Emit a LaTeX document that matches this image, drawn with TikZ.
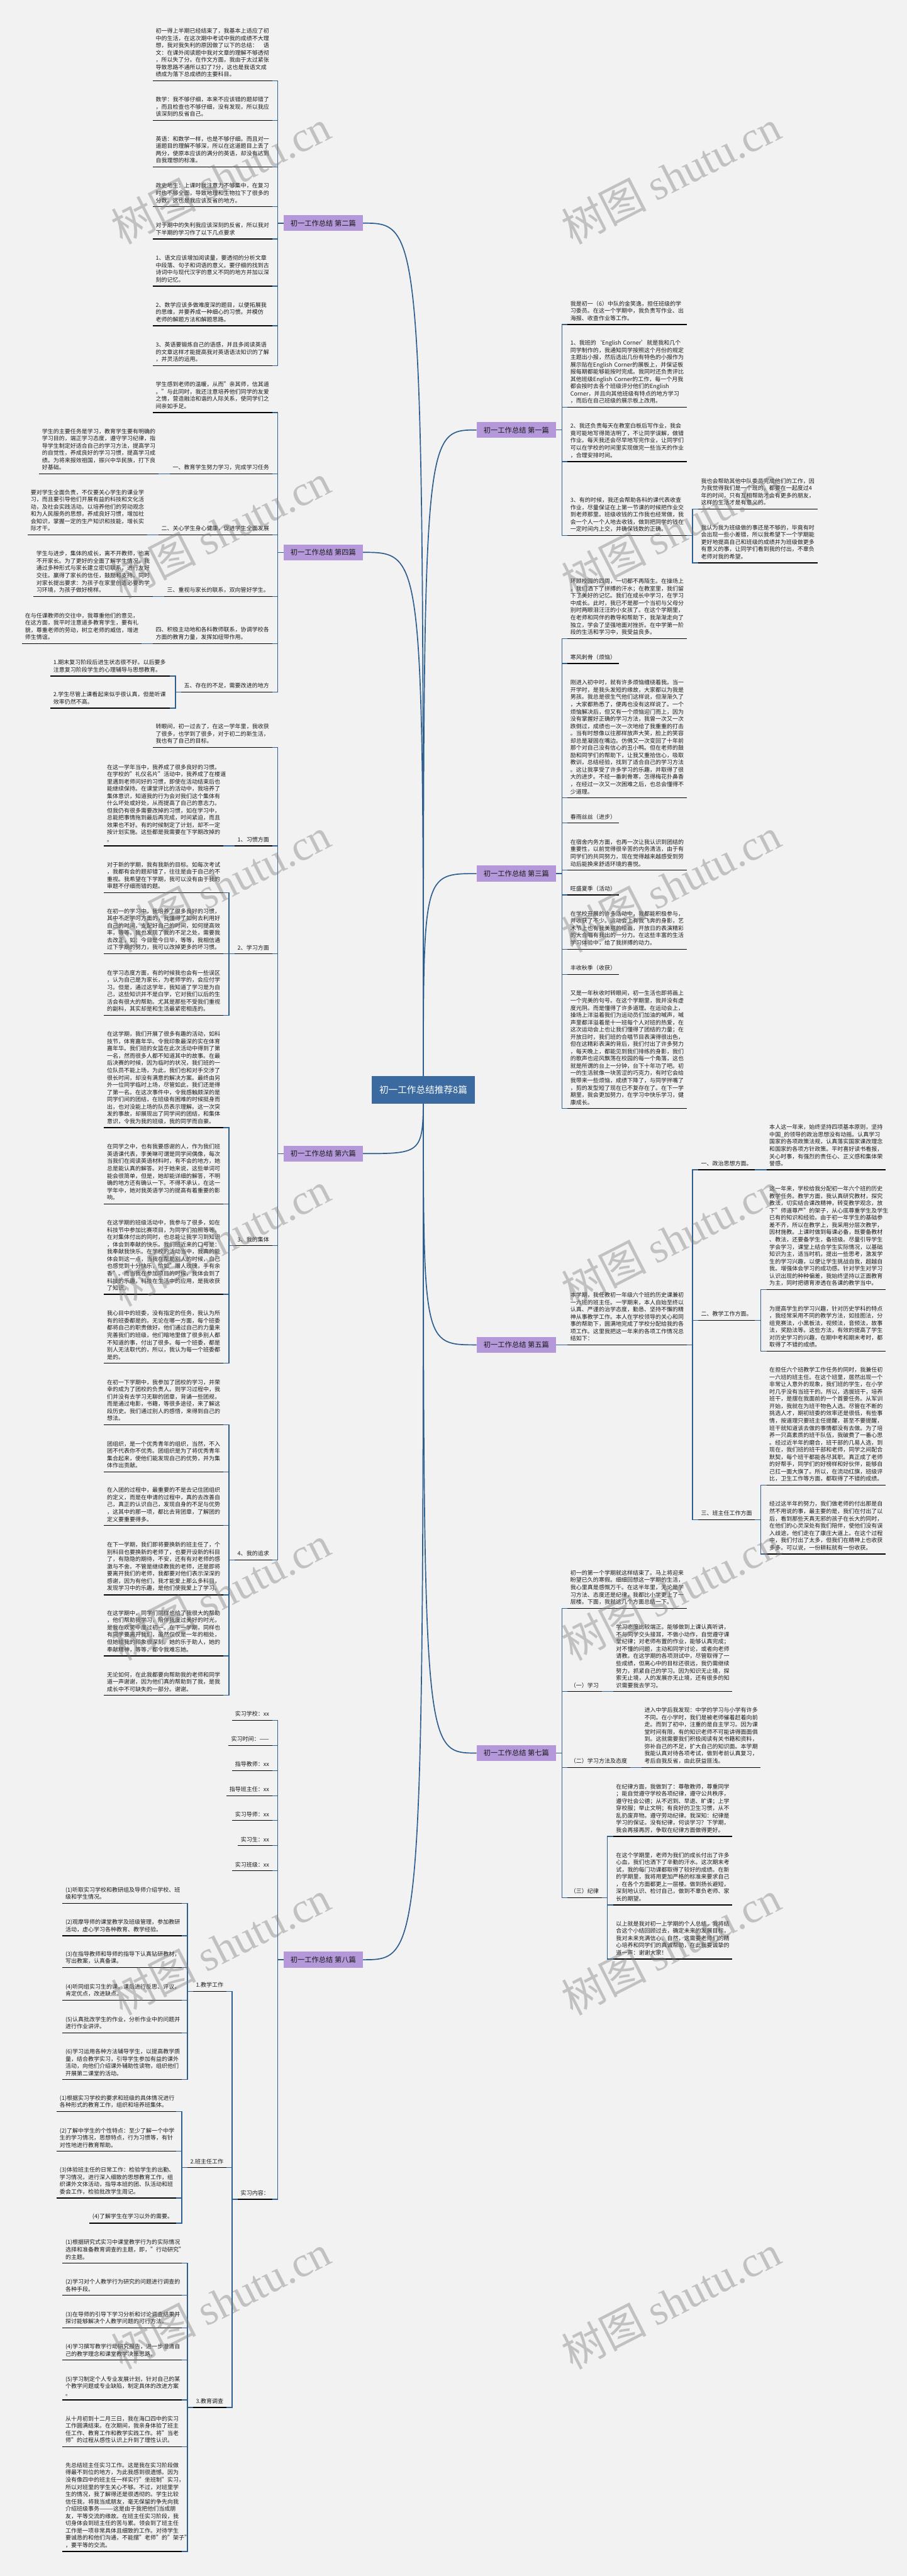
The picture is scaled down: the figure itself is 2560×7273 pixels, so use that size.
\documentclass[tikz,border=0pt]{standalone}
\usepackage{fontspec}
\setmainfont{Noto Sans CJK SC}
\newfontfamily\wmlatin{Liberation Serif}
\usepackage{tikz}
\usetikzlibrary{positioning}
\usetikzlibrary{calc}
\usetikzlibrary{backgrounds}

\definecolor{linkblue}{RGB}{46,94,142}
\definecolor{branchfill}{RGB}{180,152,218}
\definecolor{rootfill}{RGB}{58,106,160}
\definecolor{bgpaper}{RGB}{242,242,242}
\definecolor{inkgray}{RGB}{26,26,26}
\definecolor{wmgray}{RGB}{120,120,120}

\newcommand\leaffont{\fontsize{8pt}{10.25pt}\selectfont}
\newcommand\branchfont{\fontsize{10pt}{12pt}\selectfont}
\newcommand\rootfont{\fontsize{13pt}{15pt}\selectfont}
\newcommand\wmfont{\fontsize{60pt}{60pt}\selectfont}

\tikzset{
	uline/.style={draw=black, line width=1.25pt},
	linkline/.style={draw=linkblue, line width=1.25pt},
	rootline/.style={draw=linkblue, line width=1.5pt},
	leafbox/.style={font=\leaffont, text=inkgray, inner xsep=4pt, inner ysep=5pt,
		append after command={(\tikzlastnode.south west) edge[uline] (\tikzlastnode.south east)}},
	lleaf/.style={leafbox, text width=160pt, align=left, anchor=south east},
	rleaf/.style={leafbox, text width=160pt, align=left, anchor=south west},
	llab/.style={leafbox, align=left, anchor=south east},
	rlab/.style={leafbox, align=left, anchor=south west},
	branchbox/.style={fill=branchfill, font=\branchfont, text=inkgray, minimum width=112pt, minimum height=22.5pt, inner xsep=4.5pt},
	rootbox/.style={fill=rootfill, font=\rootfont, text=white, minimum width=146pt, minimum height=39.5pt},
	wmark/.style={anchor=south west, rotate=27, inner sep=0pt, font=\wmfont, text=wmgray, text opacity=0.4}
}

\begin{document}
\begin{tikzpicture}[x=0.5pt,y=-0.5pt]
\useasboundingbox (0,0) rectangle (2560,7273);

\node[rootbox] (root) at (1195,3077) {初一工作总结推荐8篇};

% --- 第一篇
\node[branchbox, anchor=east] (b1) at (1570,1214) {初一工作总结 第一篇};
\coordinate (j1) at ([xshift=8pt]b1.east);
\node[rleaf, xshift=8pt] (b1a) at (j1 |- 0,916) {我是初一（6）中队的金笑逸，担任班级的学\\习委员。在这一个学期中，我负责写作业、出\\海报、收查作业等工作。};
\node[rleaf, xshift=8pt] (b1b) at (j1 |- 0,1150) {1、我班的‘English Corner’就是我和几个\\同学制作的，我通知同学按照这个月份的规定\\主题出小报，然后选出几份有特色的小报作为\\展示贴在English Corner的展板上，并保证板\\报每期都能够能按时完成。我同时还负责评比\\其他班级English Corner的工作，每一个月我\\都会按时去各个班级评分他们的English\\Corner，并且向其他班级有特点的地方学习\\，而后在自己班级的展示板上改用。};
\node[rleaf, xshift=8pt] (b1c) at (j1 |- 0,1303) {2、我还负责每天在教室白板后写作业，我会\\竟可能地写得简洁明了，不让同学误解，做错\\作业。每天我还会尽早地写完作业，让同学们\\可以在学校的时间里实现做完一些当天的作业\\，合理安排时间。};
\node[rleaf, xshift=8pt] (b1d) at (j1 |- 0,1512) {3、有的时候，我还会帮助各科的课代表收查\\作业，尽量保证在上第一节课的时候把作业交\\到老师那里。班级收钱的工作我也经常做，我\\会一个人一个人地去收钱，做到把同学的钱在\\一定时间内上交，并确保钱数的正确。};
\coordinate (j1d) at ([xshift=8pt]b1d.south east);
\node[rleaf, xshift=8pt] (b1d1) at (j1d |- 0,1437) {我也会帮助其他中队委员完成他们的工作，因\\为我觉得我们是一个班的，都要在一起度过4\\年的时间，只有互相帮助才会有更多的朋友，\\这样的生活才是有意义的。};
\node[rleaf, xshift=8pt] (b1d2) at (j1d |- 0,1589) {我认为我为班级做的事还是不够的，毕竟有时\\会出现一些小差错，所以我希望下一个学期能\\更好地提高自己和班级的成绩并为班级做更多\\有意义的事，让同学们看到我的付出，不辜负\\老师对我的希望。};

\draw[linkline] (b1.east) -- (j1) |- (b1a.south west);
\draw[linkline] (b1.east) -- (j1) |- (b1b.south west);
\draw[linkline] (b1.east) -- (j1) |- (b1c.south west);
\draw[linkline] (b1.east) -- (j1) |- (b1d.south west);
\draw[linkline] (b1d.south east) -- (j1d) |- (b1d1.south west);
\draw[linkline] (b1d.south east) -- (j1d) |- (b1d2.south west);

% --- 第二篇
\node[branchbox, anchor=west] (b2) at (800,630) {初一工作总结 第二篇};
\coordinate (j2) at ([xshift=-8pt]b2.west);
\node[lleaf, xshift=-8pt] (b2a) at (j2 |- 0,228) {初一得上半期已经结束了，我基本上适应了初\\中的生活，在这次期中考试中我的成绩不大理\\想，我对我失利的原因做了以下的总结：　语\\文：在课外阅读题中我对文章的理解不够透彻\\，所以失了分。在作文方面，我由于太过紧张\\导致思路不通所以扣了7分，这也是我语文成\\绩成为落下总成绩的主要科目。};
\node[lleaf, xshift=-8pt] (b2b) at (j2 |- 0,340) {数学：我不够仔细，本来不应该错的题却错了\\，而且检查也不够仔细，没有发现，所以我应\\该深刻的反省自己。};
\node[lleaf, xshift=-8pt] (b2c) at (j2 |- 0,471.5) {英语：和数学一样，也是不够仔细。而且对一\\道题目的理解不够深，所以在这道题目上丢了\\两分，使原本应该的满分的英语，却没有达到\\自我理想的标准。};
\node[lleaf, xshift=-8pt] (b2d) at (j2 |- 0,583.6) {政史地生：上课时我注意力不够集中，在复习\\时也不够全面，导致地理和生物拉下了很多的\\分数。这也是我应该反省的地方。};
\node[lleaf, xshift=-8pt] (b2e) at (j2 |- 0,675) {对于期中的失利我应该深刻的反省，所以我对\\下半期的学习作了以下几点要求};
\node[lleaf, xshift=-8pt] (b2f) at (j2 |- 0,808) {1、语文应该增加阅读量，要透彻的分析文章\\中段落、句子和词语的意义。要仔细的找到古\\诗词中与现代汉字的意义不同的地方并加以深\\刻的记忆。};
\node[lleaf, xshift=-8pt] (b2g) at (j2 |- 0,920) {2、数学应该多做难度深的题目，以便拓展我\\的思维，并要养成一种细心的习惯。并模仿\\老师的解题方法和解题思路。};
\node[lleaf, xshift=-8pt] (b2h) at (j2 |- 0,1032.5) {3、英语要锻炼自己的语感，并且多阅读英语\\的文章这样才能提高我对英语语法知识的了解\\，并灵活的运用。};

\draw[linkline] (b2.west) -- (j2) |- (b2a.south east);
\draw[linkline] (b2.west) -- (j2) |- (b2b.south east);
\draw[linkline] (b2.west) -- (j2) |- (b2c.south east);
\draw[linkline] (b2.west) -- (j2) |- (b2d.south east);
\draw[linkline] (b2.west) -- (j2) |- (b2e.south east);
\draw[linkline] (b2.west) -- (j2) |- (b2f.south east);
\draw[linkline] (b2.west) -- (j2) |- (b2g.south east);
\draw[linkline] (b2.west) -- (j2) |- (b2h.south east);

% --- 第三篇
\node[branchbox, anchor=east] (b3) at (1570,2466.5) {初一工作总结 第三篇};
\coordinate (j3) at ([xshift=8pt]b3.east);
\node[rleaf, xshift=8pt] (b3a) at (j3 |- 0,1803) {环顾校园的四周，一切都不再陌生。在操场上\\，我们洒下了拼搏的汗水；在教室里，我们留\\下了美好的记忆。我们在成长中学习，在学习\\中成长。此时，我已不是那一个当初与父母分\\别时两眼泪汪汪的小女孩了。在这个学期里，\\在老师和同伴的教导和帮助下，我渐渐走向了\\独立，学会了坚强地面对挫折。在中学第一阶\\段的生活和学习中，我受益良多。};
\node[rlab, xshift=8pt] (b3b) at (j3 |- 0,1873.4) {寒风刺骨（烦恼）};
\node[rleaf, xshift=8pt] (b3c) at (j3 |- 0,2252.6) {刚进入初中时，就有许多烦恼缠绕着我。当一\\开学时，是我头发短的缘故，大家都以为我是\\男孩。我总是很生气他们这样说，但渐渐久了\\，大家都熟悉了，便再也没有这样说了。一个\\烦恼解决后，但又有一个烦恼迎门而上，因为\\没有掌握好正确的学习方法，我曾一次又一次\\跌倒过，成绩也一次一次地给了我重重的打击\\。当有时想像以往那样放声大笑，脸上的笑容\\却总是凝固在嘴边。仿佛又一次变回了十年前\\那个对自己没有信心的丑小鸭。但在老师的鼓\\励和同学们的帮助下，让我又重拾信心，吸取\\教训，总结经验，找到了适合自己的学习方法\\。这让我享受了许多学习的乐趣，并取得了很\\大的进步。不经一番刺骨寒，怎得梅花扑鼻香\\，在经过一次又一次困难之后，也总会懂得不\\少道理。};
\node[rlab, xshift=8pt] (b3d) at (j3 |- 0,2323.8) {春雨丝丝（进步）};
\node[rleaf, xshift=8pt] (b3e) at (j3 |- 0,2456.8) {在宿舍内务方面，也再一次让我认识到团结的\\重要性，以前觉得很辛苦的内务清洁，由于有\\同学们的共同努力，现在觉得越来越感受到劳\\动后能换来舒适环境的喜悦。};
\node[rlab, xshift=8pt] (b3f) at (j3 |- 0,2526.7) {旺盛夏季（活动）};
\node[rleaf, xshift=8pt] (b3g) at (j3 |- 0,2680) {在学校开展的许多活动中，我都能积极参与，\\并收获了不少。运动会上有我飞奔的身影，艺\\术节上也有我美丽的绘画，开放日的表演精彩\\的大合唱有我出的一分力。在这些丰富的生活\\学习体验中，给了我拼搏的动力。};
\node[rlab, xshift=8pt] (b3h) at (j3 |- 0,2751) {丰收秋季（收获）};
\node[rleaf, xshift=8pt] (b3i) at (j3 |- 0,3130) {又是一年秋收时转眼间，初一生活也即将画上\\一个完美的句号。在这个学期里，我并没有虚\\度光阴。而是懂得了许多道理。在运动会上，\\操场上洋溢着我们为运动员们加油的喊声，喊\\声里都洋溢着是十一班每个人对班的热爱，在\\这次运动会上也让我们懂得了团结的力量；在\\开放日时，我们班的合唱节目表演得很出色，\\但在这精彩表演的背后，我们付出了许多努力\\，每天晚上，都能见到我们排练的身影，我们\\的歌声也迎风飘荡在校园的每一个角落，这也\\就是所谓的台上一分钟，台下十年功了吧。初\\一的生活就像一块苦涩的巧克力，有时它会给\\我带来一些烦恼，成绩下降了，与同学拌嘴了\\，剪的发型短了现在已不复存在了。在下一学\\期里，我会更加努力，在学习中快乐学习，健\\康成长。};

\draw[linkline] (b3.east) -- (j3) |- (b3a.south west);
\draw[linkline] (b3.east) -- (j3) |- (b3b.south west);
\draw[linkline] (b3.east) -- (j3) |- (b3c.south west);
\draw[linkline] (b3.east) -- (j3) |- (b3d.south west);
\draw[linkline] (b3.east) -- (j3) |- (b3e.south west);
\draw[linkline] (b3.east) -- (j3) |- (b3f.south west);
\draw[linkline] (b3.east) -- (j3) |- (b3g.south west);
\draw[linkline] (b3.east) -- (j3) |- (b3h.south west);
\draw[linkline] (b3.east) -- (j3) |- (b3i.south west);

% --- 第四篇
\node[branchbox, anchor=west] (b4) at (800,1559.5) {初一工作总结 第四篇};
\coordinate (j4) at ([xshift=-8pt]b4.west);
\node[lleaf, xshift=-8pt] (b4a) at (j4 |- 0,1165) {学生感到老师的温暖，从而"亲其师，信其道\\。"与此同时，我还注意培养他们同学的友爱\\之情，营造融洽和谐的人际关系，使同学们之\\间亲如手足。};
\node[llab, xshift=-8pt] (b4b) at (j4 |- 0,1338) {一、教育学生努力学习，完成学习任务};
\node[lleaf, xshift=-16pt] (b4b1) at (b4b.south west) {学生的主要任务是学习，教育学生要有明确的\\学习目的，端正学习态度，遵守学习纪律，指\\导学生制定好适合自己的学习方法，提高学习\\的自觉性，养成良好的学习习惯，提高学习成\\绩。为将来报效祖国，振兴中华民族，打下良\\好基础。};
\node[llab, xshift=-8pt] (b4c) at (j4 |- 0,1510) {二、关心学生身心健康，促进学生全面发展};
\node[lleaf, xshift=-16pt] (b4c1) at (b4c.south west) {要对学生全面负责，不仅要关心学生的课业学\\习，而且要引导他们开展有益的科技和文化活\\动，及社会实践活动。以培养他们的劳动观念\\和为人民服务的思想，养成良好习惯，增加社\\会知识，掌握一定的生产知识和技能，增长实\\际才干。};
\node[llab, xshift=-8pt] (b4d) at (j4 |- 0,1684) {三、重视与家长的联系，双向管好学生。};
\node[lleaf, xshift=-16pt] (b4d1) at (b4d.south west) {学生与进步，集体的成长，离不开教师，也离\\不开家长。为了更好的全面了解学生情况，我\\通过多种形式与家长建立密切联系，进行友好\\交往。赢得了家长的信任，鼓励和支持。同时\\对家长提出要求：为孩子在家里创造必要的学\\习环境，为孩子做好榜样。};
\node[llab, xshift=-8pt] (b4e) at (j4 |- 0,1817) {四、积极主动地和各科教师联系，协调学校各\\方面的教育力量，发挥如纽带作用。};
\node[lleaf, xshift=-16pt] (b4e1) at (b4e.south west) {在与任课教师的交往中，我尊重他们的意见，\\在这方面，我平时注意道多教育学生，要有礼\\貌，尊重老师的劳动，树立老师的威信，增进\\师生情谊。};
\node[llab, xshift=-8pt] (b4f) at (j4 |- 0,1954) {五、存在的不足，需要改进的地方};
\coordinate (j4f) at ([xshift=-8pt]b4f.south west);
\node[lleaf, xshift=-8pt] (b4f1) at (j4f |- 0,1909) {1.期末复习阶段后进生状态很不好。以后要多\\注意复习阶段学生的心理辅导与思想教育。};
\node[lleaf, xshift=-8pt] (b4f2) at (j4f |- 0,1999) {2.学生尽管上课看起来似乎很认真，但是听课\\效率仍然不高。};

\draw[linkline] (b4.west) -- (j4) |- (b4a.south east);
\draw[linkline] (b4.west) -- (j4) |- (b4b.south east);
\draw[linkline] (b4.west) -- (j4) |- (b4c.south east);
\draw[linkline] (b4.west) -- (j4) |- (b4d.south east);
\draw[linkline] (b4.west) -- (j4) |- (b4e.south east);
\draw[linkline] (b4.west) -- (j4) |- (b4f.south east);
\draw[linkline] (b4b.south west) -- (b4b1.south east);
\draw[linkline] (b4c.south west) -- (b4c1.south east);
\draw[linkline] (b4d.south west) -- (b4d1.south east);
\draw[linkline] (b4e.south west) -- (b4e1.south east);
\draw[linkline] (b4f.south west) -- (j4f) |- (b4f1.south east);
\draw[linkline] (b4f.south west) -- (j4f) |- (b4f2.south east);

% --- 第五篇
\node[branchbox, anchor=east] (b5) at (1570,3797) {初一工作总结 第五篇};
\node[rleaf] (b5a) at ([xshift=16pt]b5.east) {本学期，我任教初一年级六个班的历史课兼初\\一六班的班主任。一学期来，本人自始至终以\\认真、严谨的治学态度，勤恳、坚持不懈的精\\神从事教学工作。本人在学校领导的关心和同\\事的帮助下，圆满地完成了学校分配给我的各\\项工作。这里我把这一年来的各项工作情况总\\结如下：};
\coordinate (j5a) at ([xshift=8pt]b5a.south east);
\node[rlab, xshift=8pt] (b5b) at (j5a |- 0,3303) {一、政治思想方面。};
\node[rleaf, xshift=16pt] (b5b1) at (b5b.south east) {本人这一年来，始终坚持四项基本原则，坚持\\中国\_的领导的政治思想没有动摇。认真学习\\国家的各项政策法规，认真落实国家课改理念\\和国家的各项方针政策。平时喜好读书看报，\\关心时事，有强烈的责任心、正义感和集体荣\\誉感。};
\node[rlab, xshift=8pt] (b5c) at (j5a |- 0,3727.6) {二、教学工作方面。};
\coordinate (j5c) at ([xshift=8pt]b5c.south east);
\node[rleaf, xshift=8pt] (b5c1) at (j5c |- 0,3641) {这一年来，学校给我分配初一年六个班的历史\\教学任务。教学方面，我认真研究教材，探究\\教法，切实结合课改精神，转变教学观念，放\\下"师道尊严"的架子，从心底尊重学生及学生\\已有的知识和经验。由于初一年学生的基础参\\差不齐，所以在教学上，我采用分层次教学，\\因材施教。上课时做到每课必备，既要备教材\\、教法，还要备学生，备班级。尽量引导学生\\学会学习，课堂上结合学生实际情况，以基础\\知识为主，适当时机，提出一些思考，激发学\\生的学习兴趣，以便让学生挑战自我，超越自\\我。增强体会学习的成功感。针对学生对学习\\认识出现的种种偏差，我始终坚持以正面教育\\为主，同时把德育渗透在各课的教学当中。};
\node[rleaf, xshift=8pt] (b5c2) at (j5c |- 0,3815) {为提高学生的学习兴趣，针对历史学科的特点\\，我经常采用不同的教学方法，如挂图法，分\\组竞赛法，小黑板法，视频法，音频法，故事\\法，奖励法等。这些方法，有效的提高了学生\\对历史学习的兴趣，在期中考和期末考时，都\\取得了不错的成绩。};
\node[rlab, xshift=8pt] (b5d) at (j5a |- 0,4290.5) {三、班主任工作方面};
\coordinate (j5d) at ([xshift=8pt]b5d.south east);
\node[rleaf, xshift=8pt] (b5d1) at (j5d |- 0,4193.5) {在担任六个班教学工作任务的同时，我兼任初\\一六班的班主任。在这个班里，居然出现一个\\非常让人意外的现象，我们班的学生，在小学\\时几乎没有当班干的。所以，选拔班干，培养\\班干，是摆在我面前的一个首要任务。从军训\\开始，我就在为班干物色人选。尽管在不断的\\挑选人才，期初班委的效率还是很低，有些事\\情，按道理只要班主任提醒，甚至不要提醒，\\班干就知道该去做的事情都没有去做。为了培\\养一只高素质的班干队伍，我破费了一番心思\\。经过近半年的磨合，班干部的几易人选，到\\现在，我们班的班干部和老师，同学之间配合\\默契，每个班干都能各尽其职。真正成了老师\\的好帮手，同学们的好榜样和好伙伴，能够自\\己扛一面大旗了。所以，在流动红旗，班级评\\比，卫生工作等方面，都取得了不错的成绩。};
\node[rleaf, xshift=8pt] (b5d2) at (j5d |- 0,4387.7) {经过这半年的努力，我们做老师的付出那是自\\然不用说的事，最主要的是，我们在付出了以\\后，看到那些天真无邪的孩子在长大的同时，\\在他们的心灵深处有我们陪伴，使他们没有误\\入歧途，他们走在了康庄大道上。在这个过程\\中，我们付出了太多，但我们在精神上也收获\\多多。可以说，一份耕耘就有一份收获。};

\draw[linkline] (b5.east) -- (b5a.south west);
\draw[linkline] (b5a.south east) -- (j5a) |- (b5b.south west);
\draw[linkline] (b5a.south east) -- (j5a) |- (b5c.south west);
\draw[linkline] (b5a.south east) -- (j5a) |- (b5d.south west);
\draw[linkline] (b5b.south east) -- (b5b1.south west);
\draw[linkline] (b5c.south east) -- (j5c) |- (b5c1.south west);
\draw[linkline] (b5c.south east) -- (j5c) |- (b5c2.south west);
\draw[linkline] (b5d.south east) -- (j5d) |- (b5d1.south west);
\draw[linkline] (b5d.south east) -- (j5d) |- (b5d2.south west);

% --- 第六篇
\node[branchbox, anchor=west] (b6) at (800,3257) {初一工作总结 第六篇};
\coordinate (j6) at ([xshift=-8pt]b6.west);
\node[lleaf, xshift=-8pt] (b6a) at (j6 |- 0,2110) {转眼间，初一过去了，在这一学年里，我收获\\了很多，也学到了很多，对于初二的新生活，\\我也有了自己的目标。};
\node[llab, xshift=-8pt] (b6b) at (j6 |- 0,2388) {1、习惯方面};
\node[lleaf, xshift=-16pt] (b6b1) at (b6b.south west) {在这一学年当中，我养成了很多良好的习惯。\\在学校的"礼仪名片"活动中，我养成了在楼道\\里遇到老师问好的习惯，即使在活动结束后也\\能继续保持。在课堂评比的活动中，我培养了\\集体意识，知道我的行为会对我们这个集体有\\什么坏处或好处，从而提高了自己的意志力。\\但我仍有很多需要改掉的习惯，如在学习中，\\总能把事情拖到最后再完成，时间紧迫，而且\\效果也不好。有的时候制定了计划，却不一定\\按计划实施。这些都是我需要在下学期改掉的\\。};
\node[llab, xshift=-8pt] (b6c) at (j6 |- 0,2693) {2、学习方面};
\coordinate (j6c) at ([xshift=-8pt]b6c.south west);
\node[lleaf, xshift=-8pt] (b6c1) at (j6c |- 0,2520.6) {对于新的学期，我有我新的目标。如每次考试\\，我都有会的题却错了，往往是由于自己的不\\重视。我希望在下学期，我可以没有由于我的\\审题不仔细而错的题。};
\node[lleaf, xshift=-8pt] (b6c2) at (j6c |- 0,2693) {在初一的学习中，我培养了很多良好的习惯，\\其中不乏学习方面的，我懂得了如何去利用好\\自己的时间，支配好自己的时间，如何提高效\\率，等等。我也发现了我的不足之处，需要我\\去改正，如：今日是今日毕，等等，我相信通\\过下学期的努力，我可以改掉更多的坏习惯。};
\node[lleaf, xshift=-8pt] (b6c3) at (j6c |- 0,2867) {在学习态度方面，有的时候我也会有一些误区\\，认为自己是为家长，为老师学的，会应付学\\习。但是，通过这学年，我知道了学习是为自\\己，这些知识并不是白学，它对我们以后的生\\活会有很大的帮助。尤其是那些不受我们重视\\的副科，其实却是和生活最紧密相连的。};
\node[llab, xshift=-8pt] (b6d) at (j6 |- 0,3517) {3、我的集体};
\coordinate (j6d) at ([xshift=-8pt]b6d.south west);
\node[lleaf, xshift=-8pt] (b6d1) at (j6d |- 0,3184) {在这学期，我们开展了很多有趣的活动，如科\\技节，体育嘉年华。令我印象最深的实在体育\\嘉年华。我们班的女篮在此次活动中得到了第\\一名，然而很多人都不知道其中的故事。在最\\后决赛的时候，因为临时的状况，我们班的一\\位队员不能上场，为此，我们也和对手交涉了\\很长时间，却没有满意的解决方案。最终由另\\外一位同学临时上场，尽管如此，我们还是得\\了第一名。在这次事件中，令我感触颇深的是\\同学们间的团结，在班级有困难的时候挺身而\\出，也对没能上场的队员表示理解。这一次突\\发的事故，却展现出了同学间的团结，和集体\\意识，令我为我的班级，我的同学而自豪。};
\node[lleaf, xshift=-8pt] (b6d2) at (j6d |- 0,3399) {在同学之中，也有我要感谢的人，作为我们班\\英语课代表，李美琳可谓是同学间偶像，每次\\当我们在阅读英语材料时，有不会的地方，她\\总是能认真的解答。对于她来说，这些单词可\\能会很简单，但是，她却能详细的解答，不明\\确的地方还有确认一下。不得不承认，在这一\\学年中，她对我英语学习的提高有着重要的影\\响。};
\node[lleaf, xshift=-8pt] (b6d3) at (j6d |- 0,3654.5) {在这学期的班级活动中，我参与了很多，如在\\科技节中参加比赛项目，为同学们拍照等等。\\在对集体付出的同时，也总能让我学习到知识\\，体会到奉献的快乐。我们班近来的口号是：\\我奉献我快乐。在学校的活动当中，我真的能\\体会到这一点，当我在帮助别人的时候，自己\\也感觉到十分快乐，恰如"赠人玫瑰，手有余\\香"。而当我在参加项目的时候，我体会到了\\科技的乐趣，科技在生活中的应用，是我收获\\了知识。};
\node[lleaf, xshift=-8pt] (b6d4) at (j6d |- 0,3849) {我心目中的班委，没有指定的任务，我认为所\\有的班委都是的。无论在哪一方面，每个班委\\都将自己的职责做好。他们通过自己的力量来\\完善我们的班级，他们暗地里做了很多别人都\\不知道的事，付出了很多。每一个班委，都是\\别人无法取代的，所以，我认为每一个班委都\\是的。};
\node[llab, xshift=-8pt] (b6e) at (j6 |- 0,4404) {4、我的追求};
\coordinate (j6e) at ([xshift=-8pt]b6e.south west);
\node[lleaf, xshift=-8pt] (b6e1) at (j6e |- 0,4022.5) {在初一下学期中，我参加了团校的学习，并荣\\幸的成为了团校的负责人。则学习过程中，我\\们并没有去学习无聊的团章，背诵一些团规，\\而是通过电影，书籍，等很多途径，来了解这\\段历史。我们通过别人的感悟，来得到自己的\\想法。};
\node[lleaf, xshift=-8pt] (b6e2) at (j6e |- 0,4155.5) {团组织，是一个优秀青年的组织，当然，不入\\团不代表你不优秀。团组织是为了将优秀青年\\集合起来，使他们能发现自己的优势，并为集\\体作出贡献。};
\node[lleaf, xshift=-8pt] (b6e3) at (j6e |- 0,4307) {在入团的过程中，最重要的不是去记住团组织\\的定义，而是在申请的过程中，真的去改善自\\己，真正的认识自己，发现自身的不足与优势\\，这其中的那一项，都比去背团章，了解团的\\定义要重要得多。};
\node[lleaf, xshift=-8pt] (b6e4) at (j6e |- 0,4502.6) {在下一学期，我们即将要换新的班主任了，个\\别科目也要换新的老师了，也要开设新的科目\\了，有隐隐的期待，不安，还有有对老师的感\\激与不舍。不管是继续教我的老师，还是即将\\要离开我们的老师，我都要对他们表示深深的\\感谢，因为有他们，我才能爱上那么多科目，\\发现学习中的乐趣，是他们使我爱上了学习。};
\node[lleaf, xshift=-8pt] (b6e5) at (j6e |- 0,4675) {在这学期中，同学们同样也给了我很大的帮助\\，他们帮助我学习，陪伴我度过美好的时光，\\是我在欢笑中度过初一。在下一学期，同样也\\有同学要离开我们，虽然仅仅是一年的相处，\\但她给我的印象很深刻。她的乐于助人，她的\\奉献精神，等等，都令我难忘她。};
\node[lleaf, xshift=-8pt] (b6e6) at (j6e |- 0,4786.6) {无论如何，在此我都要向帮助我的老师和同学\\道一声谢谢，因为他们真的帮助到了我，是我\\成长中不可缺失的一部分。谢谢。};

\draw[linkline] (b6.west) -- (j6) |- (b6a.south east);
\draw[linkline] (b6.west) -- (j6) |- (b6b.south east);
\draw[linkline] (b6.west) -- (j6) |- (b6c.south east);
\draw[linkline] (b6.west) -- (j6) |- (b6d.south east);
\draw[linkline] (b6.west) -- (j6) |- (b6e.south east);
\draw[linkline] (b6b.south west) -- (b6b1.south east);
\draw[linkline] (b6c.south west) -- (j6c) |- (b6c1.south east);
\draw[linkline] (b6c.south west) -- (j6c) |- (b6c2.south east);
\draw[linkline] (b6c.south west) -- (j6c) |- (b6c3.south east);
\draw[linkline] (b6d.south west) -- (j6d) |- (b6d1.south east);
\draw[linkline] (b6d.south west) -- (j6d) |- (b6d2.south east);
\draw[linkline] (b6d.south west) -- (j6d) |- (b6d3.south east);
\draw[linkline] (b6d.south west) -- (j6d) |- (b6d4.south east);
\draw[linkline] (b6e.south west) -- (j6e) |- (b6e1.south east);
\draw[linkline] (b6e.south west) -- (j6e) |- (b6e2.south east);
\draw[linkline] (b6e.south west) -- (j6e) |- (b6e3.south east);
\draw[linkline] (b6e.south west) -- (j6e) |- (b6e4.south east);
\draw[linkline] (b6e.south west) -- (j6e) |- (b6e5.south east);
\draw[linkline] (b6e.south west) -- (j6e) |- (b6e6.south east);

% --- 第七篇
\node[branchbox, anchor=east] (b7) at (1570,4949.5) {初一工作总结 第七篇};
\coordinate (j7) at ([xshift=8pt]b7.east);
\node[rleaf, xshift=8pt] (b7a) at (j7 |- 0,4541) {初一的第一个学期就这样结束了。马上将迎来\\盼望已久的寒假。细细回想这一学期的生活，\\我心里真是感慨万千。在这半年里，无论是学\\习方法、态度还是纪律，我都比小学更上了一\\层楼。下面，我就这几个方面总结一下。};
\node[rlab, xshift=8pt] (b7b) at (j7 |- 0,4776) {（一）学习};
\node[rleaf, xshift=16pt] (b7b1) at (b7b.south east) {学习态度比较端正。能够做到上课认真听讲，\\不与同学交头接耳，不做小动作，自觉遵守课\\堂纪律；对老师布置的作业，能够认真完成；\\对不懂的问题，主动和同学讨论，或者向老师\\请教。在这学期的各项测试中，尽管取得了一\\些成绩，但离心中的目标还很远，我仍需继续\\努力，抓紧自己的学习。因为知识无止境，探\\索无止境，人的发展亦无止境，还有很多的知\\识需要我去学习。};
\node[rlab, xshift=8pt] (b7c) at (j7 |- 0,4990) {（二）学习方法及态度};
\node[rleaf, xshift=16pt] (b7c1) at (b7c.south east) {进入中学后我发现：中学的学习与小学有许多\\不同。在小学时，我们是被老师催着赶着向前\\走。而到了初中，注重的是自主学习。因为课\\堂时间有限，有的知识老师不可能讲得面面俱\\到。这就需要我们积极阅读有关书籍和资料，\\弥补自己的不足，扩大自己的知识面。本学期\\我能认真对待各项考试，做到考前认真复习，\\考后自我反省，由此获益匪浅。};
\node[rlab, xshift=8pt] (b7d) at (j7 |- 0,5358) {（三）纪律};
\coordinate (j7d) at ([xshift=8pt]b7d.south east);
\node[rleaf, xshift=8pt] (b7d1) at (j7d |- 0,5185) {在纪律方面，我做到了：尊敬教师，尊重同学\\；能自觉遵守学校各项纪律，遵守公共秩序，\\遵守社会公德；从不迟到、早退、旷课；上学\\穿校服；举止文明；有良好的卫生习惯，从不\\乱扔废弃物。遵守劳动纪律。我深知：纪律是\\学习的保证。没有纪律，何谈学习？下学期，\\我会再接再厉，争取在纪律方面做得更好。};
\node[rleaf, xshift=8pt] (b7d2) at (j7d |- 0,5378.5) {在这个学期里，老师为我们的成长付出了许多\\心血，我们也洒下了辛勤的汗水。这次期末考\\试，我的每门功课都取得了较好的成绩。在新\\的学期里，我将用更加严格的标准来要求自己\\，在各个方面都更上一层楼。做到扬长避短，\\深刻地认识、检讨自己，做到不辜负老师、家\\长的期望。};
\node[rleaf, xshift=8pt] (b7d3) at (j7d |- 0,5531) {以上就是我对初一上学期的个人总结，我将结\\合这个小结回顾过去，确定未来的发展目标，\\我对未来充满信心。自然，这需要老师们的精\\心培养和同学们的真诚帮助，在此我要诚挚的\\道一声：谢谢大家！};

\draw[linkline] (b7.east) -- (j7) |- (b7a.south west);
\draw[linkline] (b7.east) -- (j7) |- (b7b.south west);
\draw[linkline] (b7.east) -- (j7) |- (b7c.south west);
\draw[linkline] (b7.east) -- (j7) |- (b7d.south west);
\draw[linkline] (b7b.south east) -- (b7b1.south west);
\draw[linkline] (b7c.south east) -- (b7c1.south west);
\draw[linkline] (b7d.south east) -- (j7d) |- (b7d1.south west);
\draw[linkline] (b7d.south east) -- (j7d) |- (b7d2.south west);
\draw[linkline] (b7d.south east) -- (j7d) |- (b7d3.south west);

% --- 第八篇
\node[branchbox, anchor=west] (b8) at (800,5533) {初一工作总结 第八篇};
\coordinate (j8) at ([xshift=-8pt]b8.west);
\node[llab, xshift=-8pt] (b8a) at (j8 |- 0,4857) {实习学校：xx};
\node[llab, xshift=-8pt] (b8b) at (j8 |- 0,4928) {实习时间：——};
\node[llab, xshift=-8pt] (b8c) at (j8 |- 0,4999) {指导教师：xx};
\node[llab, xshift=-8pt] (b8d) at (j8 |- 0,5070) {指导班主任：xx};
\node[llab, xshift=-8pt] (b8e) at (j8 |- 0,5140) {实习导师：xx};
\node[llab, xshift=-8pt] (b8f) at (j8 |- 0,5211) {实习生：xx};
\node[llab, xshift=-8pt] (b8g) at (j8 |- 0,5282) {实习班级：xx};
\node[llab, xshift=-8pt] (b8h) at (j8 |- 0,6209) {实习内容：};
\coordinate (j8h) at ([xshift=-8pt]b8h.south west);
\node[llab, xshift=-8pt] (b8i) at (j8h |- 0,5622) {1.教学工作};
\node[llab, xshift=-8pt] (b8j) at (j8h |- 0,6120) {2.班主任工作};
\node[llab, xshift=-8pt] (b8k) at (j8h |- 0,6797) {3.教育调查};
\coordinate (j8i) at ([xshift=-8pt]b8i.south west);
\node[lleaf, xshift=-8pt] (b8i1) at (j8i |- 0,5373.5) {(1)听取实习学校和教研组及导师介绍学校、班\\级和学生情况。};
\node[lleaf, xshift=-8pt] (b8i2) at (j8i |- 0,5465.3) {(2)观摩导师的课堂教学及班级管理，参加教研\\活动，虚心学习各种教育、教学经验。};
\node[lleaf, xshift=-8pt] (b8i3) at (j8i |- 0,5555.5) {(3)在指导教师和导师的指导下认真钻研教材，\\写出教案，认真备课。};
\node[lleaf, xshift=-8pt] (b8i4) at (j8i |- 0,5647.4) {(4)听同组实习生的课，课后进行反思、评议，\\肯定优点，改进缺点。};
\node[lleaf, xshift=-8pt] (b8i5) at (j8i |- 0,5739.2) {(5)认真批改学生的作业，分析作业中的问题并\\进行作业讲评。};
\node[lleaf, xshift=-8pt] (b8i6) at (j8i |- 0,5871.5) {(6)学习运用各种方法辅导学生，以提高教学质\\量，结合教学实习，引导学生参加有益的课外\\活动，向他们介绍课外辅助性读物，组织他们\\开展第二课堂的活动。};
\coordinate (j8j) at ([xshift=-8pt]b8j.south west);
\node[lleaf, xshift=-8pt] (b8j1) at (j8j |- 0,5961.7) {(1)根据实习学校的要求和班级的具体情况进行\\各种形式的教育工作，组织和培养班集体。};
\node[lleaf, xshift=-8pt] (b8j2) at (j8j |- 0,6074) {(2)了解中学生的个性特点：至少了解一个中学\\生的学习情况，思想特点，行为习惯等，有针\\对性地进行教育帮助。};
\node[lleaf, xshift=-8pt] (b8j3) at (j8j |- 0,6206) {(3)体验班主任的日常工作：检验学生的出勤、\\学习情况，进行深入细致的思想教育工作，组\\织课外文体活动，指导本班的团、队活动和班\\委会工作，检验批改学生周记。};
\node[llab, xshift=-8pt] (b8j4) at (j8j |- 0,6277) {(4)了解学生在学习以外的需要。};
\coordinate (j8k) at ([xshift=-8pt]b8k.south west);
\node[lleaf, xshift=-8pt] (b8k1) at (j8k |- 0,6389.7) {(1)根据研究式实习中课堂教学行为的实际情况\\选择和准备教育调查的主题，即，"行动研究"\\的主题。};
\node[lleaf, xshift=-8pt] (b8k2) at (j8k |- 0,6480.6) {(2)学习对个人教学行为研究的问题进行调查的\\各种手段。};
\node[lleaf, xshift=-8pt] (b8k3) at (j8k |- 0,6572.4) {(3)在导师的引导下学习分析和讨论调查结果并\\探讨能够解决个人教学问题的可行方法。};
\node[lleaf, xshift=-8pt] (b8k4) at (j8k |- 0,6663.3) {(4)学习撰写教学行动研究报告，进一步澄清自\\己的教学理念和课堂教学决策思路。};
\node[lleaf, xshift=-8pt] (b8k5) at (j8k |- 0,6775.4) {(5)学习制定个人专业发展计划，针对自己的某\\个教学问题或专业缺陷，制定具体的改进方案\\。};
\node[lleaf, xshift=-8pt] (b8k6) at (j8k |- 0,6907.7) {从十月初到十二月三日，我在海口四中的实习\\工作圆满结束。在次期间，我亲身体验了班主\\任工作、教育工作和教学实践工作。将"当老\\师"的过程从感性认识上升到了理性认识。};
\node[lleaf, xshift=-8pt] (b8k7) at (j8k |- 0,7204) {先总结班主任实习工作。这是我在实习阶段做\\得最不到位的地方，为此我感到很遗憾。因为\\没有像四中的班主任一样实行"坐班制"实习，\\所以对班里的学生关心不够。不过，对班里学\\生的情况，我了解得还是很透彻的。学生比较\\信任我，将我当成朋友，毫无保留的争先向我\\介绍班级事务———这是由于我把他们当成朋\\友，平等交流的缘故。在班主任实习阶段，我\\切身体会到班主任的苦与累。领会到了班主任\\工作是一项非常具体且细致的工作。对待学生\\要诚恳的和他们沟通，不能摆"老师"的"架子"\\，要平等的交流。};

\draw[linkline] (b8.west) -- (j8) |- (b8a.south east);
\draw[linkline] (b8.west) -- (j8) |- (b8b.south east);
\draw[linkline] (b8.west) -- (j8) |- (b8c.south east);
\draw[linkline] (b8.west) -- (j8) |- (b8d.south east);
\draw[linkline] (b8.west) -- (j8) |- (b8e.south east);
\draw[linkline] (b8.west) -- (j8) |- (b8f.south east);
\draw[linkline] (b8.west) -- (j8) |- (b8g.south east);
\draw[linkline] (b8.west) -- (j8) |- (b8h.south east);
\draw[linkline] (b8h.south west) -- (j8h) |- (b8i.south east);
\draw[linkline] (b8h.south west) -- (j8h) |- (b8j.south east);
\draw[linkline] (b8h.south west) -- (j8h) |- (b8k.south east);
\draw[linkline] (b8i.south west) -- (j8i) |- (b8i1.south east);
\draw[linkline] (b8i.south west) -- (j8i) |- (b8i2.south east);
\draw[linkline] (b8i.south west) -- (j8i) |- (b8i3.south east);
\draw[linkline] (b8i.south west) -- (j8i) |- (b8i4.south east);
\draw[linkline] (b8i.south west) -- (j8i) |- (b8i5.south east);
\draw[linkline] (b8i.south west) -- (j8i) |- (b8i6.south east);
\draw[linkline] (b8j.south west) -- (j8j) |- (b8j1.south east);
\draw[linkline] (b8j.south west) -- (j8j) |- (b8j2.south east);
\draw[linkline] (b8j.south west) -- (j8j) |- (b8j3.south east);
\draw[linkline] (b8j.south west) -- (j8j) |- (b8j4.south east);
\draw[linkline] (b8k.south west) -- (j8k) |- (b8k1.south east);
\draw[linkline] (b8k.south west) -- (j8k) |- (b8k2.south east);
\draw[linkline] (b8k.south west) -- (j8k) |- (b8k3.south east);
\draw[linkline] (b8k.south west) -- (j8k) |- (b8k4.south east);
\draw[linkline] (b8k.south west) -- (j8k) |- (b8k5.south east);
\draw[linkline] (b8k.south west) -- (j8k) |- (b8k6.south east);
\draw[linkline] (b8k.south west) -- (j8k) |- (b8k7.south east);

% --- main branches, behind the nodes
\begin{scope}[on background layer]
\fill[bgpaper] (0,0) rectangle (2560,7273);
\draw[rootline] (root.center) .. controls (root.center |- b1.west) .. (b1.west);
\draw[rootline] (root.center) .. controls (root.center |- b3.west) .. (b3.west);
\draw[rootline] (root.center) .. controls (root.center |- b5.west) .. (b5.west);
\draw[rootline] (root.center) .. controls (root.center |- b7.west) .. (b7.west);
\draw[rootline] (root.center) .. controls (root.center |- b2.east) .. (b2.east);
\draw[rootline] (root.center) .. controls (root.center |- b4.east) .. (b4.east);
\draw[rootline] (root.center) .. controls (root.center |- b6.east) .. (b6.east);
\draw[rootline] (root.center) .. controls (root.center |- b8.east) .. (b8.east);
\end{scope}

% watermark
\node[wmark] (wm1) at (350,700) {树图 {\wmlatin shutu.cn}};
\node[wmark] (wm2) at (350,1700) {树图 {\wmlatin shutu.cn}};
\node[wmark] (wm3) at (350,2700) {树图 {\wmlatin shutu.cn}};
\node[wmark] (wm4) at (350,3700) {树图 {\wmlatin shutu.cn}};
\node[wmark] (wm5) at (350,4700) {树图 {\wmlatin shutu.cn}};
\node[wmark] (wm6) at (350,5700) {树图 {\wmlatin shutu.cn}};
\node[wmark] (wm7) at (350,6700) {树图 {\wmlatin shutu.cn}};
\node[wmark] (wm8) at (1620,700) {树图 {\wmlatin shutu.cn}};
\node[wmark] (wm9) at (1620,1700) {树图 {\wmlatin shutu.cn}};
\node[wmark] (wm10) at (1620,2700) {树图 {\wmlatin shutu.cn}};
\node[wmark] (wm11) at (1620,3700) {树图 {\wmlatin shutu.cn}};
\node[wmark] (wm12) at (1620,4700) {树图 {\wmlatin shutu.cn}};
\node[wmark] (wm13) at (1620,5700) {树图 {\wmlatin shutu.cn}};
\node[wmark] (wm14) at (1620,6700) {树图 {\wmlatin shutu.cn}};

\end{tikzpicture}
\end{document}
